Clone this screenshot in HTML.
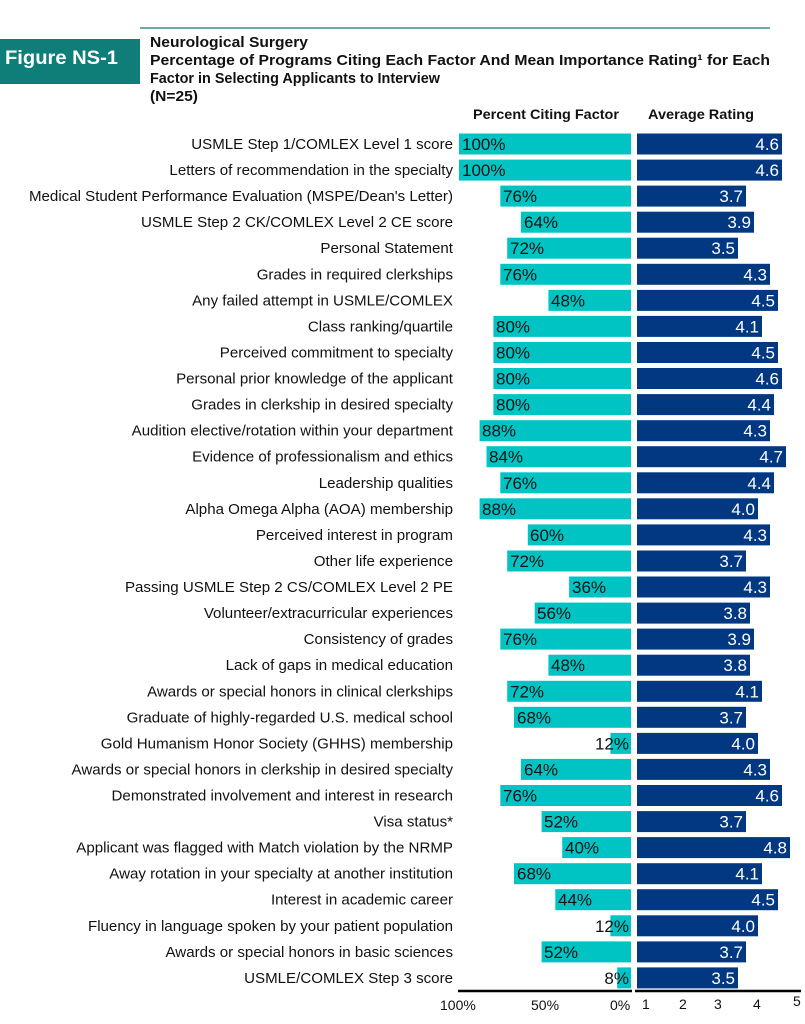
<!DOCTYPE html>
<html><head><meta charset="utf-8"><style>
html,body{margin:0;padding:0;background:#fff;}
svg{display:block;}
.l{font-size:15.1px;fill:#111;text-anchor:end}
.p{font-size:17px;fill:#111}
.pe{font-size:17px;fill:#111;text-anchor:end}
.r{font-size:17px;fill:#fff;text-anchor:end}
.c{fill:#00c4c4}
.b{fill:#023882}
</style></head><body>
<svg width="805" height="1024" xmlns="http://www.w3.org/2000/svg" font-family="Liberation Sans, Arial, sans-serif">
<rect x="0" y="39" width="140" height="45" fill="#0f7e79"/>
<line x1="140" y1="28" x2="770" y2="28" stroke="#3a918d" stroke-width="1.5"/>
<text x="5" y="64" font-size="19" font-weight="bold" fill="#fff" textLength="113" lengthAdjust="spacingAndGlyphs">Figure NS-1</text>
<g font-size="15" font-weight="bold" fill="#111">
<text x="150" y="47" textLength="158" lengthAdjust="spacingAndGlyphs">Neurological Surgery</text>
<text x="150" y="65" textLength="620" lengthAdjust="spacingAndGlyphs">Percentage of Programs Citing Each Factor And Mean Importance Rating¹ for Each</text>
<text x="150" y="83" textLength="290" lengthAdjust="spacingAndGlyphs">Factor in Selecting Applicants to Interview</text>
<text x="150" y="101" textLength="48" lengthAdjust="spacingAndGlyphs">(N=25)</text>
<text x="473" y="119" font-size="14" textLength="146" lengthAdjust="spacingAndGlyphs">Percent Citing Factor</text>
<text x="648" y="119" font-size="14" textLength="106" lengthAdjust="spacingAndGlyphs">Average Rating</text>
</g>

<g transform="translate(0,144)"><text class="l" x="453" y="5">USMLE Step 1/COMLEX Level 1 score</text><rect class="c" x="459" y="-10.5" width="172" height="21"/><text class="p" x="462" y="6">100%</text><rect class="b" x="637" y="-10.5" width="145" height="21"/><text class="r" x="779" y="6">4.6</text></g>
<g transform="translate(0,170.1)"><text class="l" x="453" y="5">Letters of recommendation in the specialty</text><rect class="c" x="459" y="-10.5" width="172" height="21"/><text class="p" x="462" y="6">100%</text><rect class="b" x="637" y="-10.5" width="145" height="21"/><text class="r" x="779" y="6">4.6</text></g>
<g transform="translate(0,196.1)"><text class="l" x="453" y="5">Medical Student Performance Evaluation (MSPE/Dean's Letter)</text><rect class="c" x="500.3" y="-10.5" width="130.7" height="21"/><text class="p" x="503" y="6">76%</text><rect class="b" x="637" y="-10.5" width="109" height="21"/><text class="r" x="743" y="6">3.7</text></g>
<g transform="translate(0,222.2)"><text class="l" x="453" y="5">USMLE Step 2 CK/COMLEX Level 2 CE score</text><rect class="c" x="520.9" y="-10.5" width="110.1" height="21"/><text class="p" x="524" y="6">64%</text><rect class="b" x="637" y="-10.5" width="117" height="21"/><text class="r" x="751" y="6">3.9</text></g>
<g transform="translate(0,248.2)"><text class="l" x="453" y="5">Personal Statement </text><rect class="c" x="507.2" y="-10.5" width="123.8" height="21"/><text class="p" x="510" y="6">72%</text><rect class="b" x="637" y="-10.5" width="101" height="21"/><text class="r" x="735" y="6">3.5</text></g>
<g transform="translate(0,274.3)"><text class="l" x="453" y="5">Grades in required clerkships </text><rect class="c" x="500.3" y="-10.5" width="130.7" height="21"/><text class="p" x="503" y="6">76%</text><rect class="b" x="637" y="-10.5" width="133" height="21"/><text class="r" x="767" y="6">4.3</text></g>
<g transform="translate(0,300.4)"><text class="l" x="453" y="5">Any failed attempt in USMLE/COMLEX</text><rect class="c" x="548.4" y="-10.5" width="82.6" height="21"/><text class="p" x="551" y="6">48%</text><rect class="b" x="637" y="-10.5" width="141" height="21"/><text class="r" x="775" y="6">4.5</text></g>
<g transform="translate(0,326.4)"><text class="l" x="453" y="5">Class ranking/quartile </text><rect class="c" x="493.4" y="-10.5" width="137.6" height="21"/><text class="p" x="496" y="6">80%</text><rect class="b" x="637" y="-10.5" width="125" height="21"/><text class="r" x="759" y="6">4.1</text></g>
<g transform="translate(0,352.5)"><text class="l" x="453" y="5">Perceived commitment to specialty </text><rect class="c" x="493.4" y="-10.5" width="137.6" height="21"/><text class="p" x="496" y="6">80%</text><rect class="b" x="637" y="-10.5" width="141" height="21"/><text class="r" x="775" y="6">4.5</text></g>
<g transform="translate(0,378.5)"><text class="l" x="453" y="5">Personal prior knowledge of the applicant</text><rect class="c" x="493.4" y="-10.5" width="137.6" height="21"/><text class="p" x="496" y="6">80%</text><rect class="b" x="637" y="-10.5" width="145" height="21"/><text class="r" x="779" y="6">4.6</text></g>
<g transform="translate(0,404.6)"><text class="l" x="453" y="5">Grades in clerkship in desired specialty </text><rect class="c" x="493.4" y="-10.5" width="137.6" height="21"/><text class="p" x="496" y="6">80%</text><rect class="b" x="637" y="-10.5" width="137" height="21"/><text class="r" x="771" y="6">4.4</text></g>
<g transform="translate(0,430.7)"><text class="l" x="453" y="5">Audition elective/rotation within your department</text><rect class="c" x="479.6" y="-10.5" width="151.4" height="21"/><text class="p" x="482" y="6">88%</text><rect class="b" x="637" y="-10.5" width="133" height="21"/><text class="r" x="767" y="6">4.3</text></g>
<g transform="translate(0,456.7)"><text class="l" x="453" y="5">Evidence of professionalism and ethics</text><rect class="c" x="486.5" y="-10.5" width="144.5" height="21"/><text class="p" x="489" y="6">84%</text><rect class="b" x="637" y="-10.5" width="149" height="21"/><text class="r" x="783" y="6">4.7</text></g>
<g transform="translate(0,482.8)"><text class="l" x="453" y="5">Leadership qualities</text><rect class="c" x="500.3" y="-10.5" width="130.7" height="21"/><text class="p" x="503" y="6">76%</text><rect class="b" x="637" y="-10.5" width="137" height="21"/><text class="r" x="771" y="6">4.4</text></g>
<g transform="translate(0,508.8)"><text class="l" x="453" y="5">Alpha Omega Alpha (AOA) membership</text><rect class="c" x="479.6" y="-10.5" width="151.4" height="21"/><text class="p" x="482" y="6">88%</text><rect class="b" x="637" y="-10.5" width="121" height="21"/><text class="r" x="755" y="6">4.0</text></g>
<g transform="translate(0,534.9)"><text class="l" x="453" y="5">Perceived interest in program </text><rect class="c" x="527.8" y="-10.5" width="103.2" height="21"/><text class="p" x="530" y="6">60%</text><rect class="b" x="637" y="-10.5" width="133" height="21"/><text class="r" x="767" y="6">4.3</text></g>
<g transform="translate(0,561)"><text class="l" x="453" y="5">Other life experience </text><rect class="c" x="507.2" y="-10.5" width="123.8" height="21"/><text class="p" x="510" y="6">72%</text><rect class="b" x="637" y="-10.5" width="109" height="21"/><text class="r" x="743" y="6">3.7</text></g>
<g transform="translate(0,587)"><text class="l" x="453" y="5">Passing USMLE Step 2 CS/COMLEX Level 2 PE</text><rect class="c" x="569.1" y="-10.5" width="61.9" height="21"/><text class="p" x="572" y="6">36%</text><rect class="b" x="637" y="-10.5" width="133" height="21"/><text class="r" x="767" y="6">4.3</text></g>
<g transform="translate(0,613.1)"><text class="l" x="453" y="5">Volunteer/extracurricular experiences</text><rect class="c" x="534.7" y="-10.5" width="96.3" height="21"/><text class="p" x="537" y="6">56%</text><rect class="b" x="637" y="-10.5" width="113" height="21"/><text class="r" x="747" y="6">3.8</text></g>
<g transform="translate(0,639.1)"><text class="l" x="453" y="5">Consistency of grades </text><rect class="c" x="500.3" y="-10.5" width="130.7" height="21"/><text class="p" x="503" y="6">76%</text><rect class="b" x="637" y="-10.5" width="117" height="21"/><text class="r" x="751" y="6">3.9</text></g>
<g transform="translate(0,665.2)"><text class="l" x="453" y="5">Lack of gaps in medical education</text><rect class="c" x="548.4" y="-10.5" width="82.6" height="21"/><text class="p" x="551" y="6">48%</text><rect class="b" x="637" y="-10.5" width="113" height="21"/><text class="r" x="747" y="6">3.8</text></g>
<g transform="translate(0,691.3)"><text class="l" x="453" y="5">Awards or special honors in clinical clerkships</text><rect class="c" x="507.2" y="-10.5" width="123.8" height="21"/><text class="p" x="510" y="6">72%</text><rect class="b" x="637" y="-10.5" width="125" height="21"/><text class="r" x="759" y="6">4.1</text></g>
<g transform="translate(0,717.3)"><text class="l" x="453" y="5">Graduate of highly-regarded U.S. medical school</text><rect class="c" x="514" y="-10.5" width="117" height="21"/><text class="p" x="517" y="6">68%</text><rect class="b" x="637" y="-10.5" width="109" height="21"/><text class="r" x="743" y="6">3.7</text></g>
<g transform="translate(0,743.4)"><text class="l" x="453" y="5">Gold Humanism Honor Society (GHHS) membership</text><rect class="c" x="610.4" y="-10.5" width="20.6" height="21"/><text class="pe" x="629" y="6">12%</text><rect class="b" x="637" y="-10.5" width="121" height="21"/><text class="r" x="755" y="6">4.0</text></g>
<g transform="translate(0,769.4)"><text class="l" x="453" y="5">Awards or special honors in clerkship in desired specialty</text><rect class="c" x="520.9" y="-10.5" width="110.1" height="21"/><text class="p" x="524" y="6">64%</text><rect class="b" x="637" y="-10.5" width="133" height="21"/><text class="r" x="767" y="6">4.3</text></g>
<g transform="translate(0,795.5)"><text class="l" x="453" y="5">Demonstrated involvement and interest in research</text><rect class="c" x="500.3" y="-10.5" width="130.7" height="21"/><text class="p" x="503" y="6">76%</text><rect class="b" x="637" y="-10.5" width="145" height="21"/><text class="r" x="779" y="6">4.6</text></g>
<g transform="translate(0,821.6)"><text class="l" x="453" y="5">Visa status*</text><rect class="c" x="541.6" y="-10.5" width="89.4" height="21"/><text class="p" x="544" y="6">52%</text><rect class="b" x="637" y="-10.5" width="109" height="21"/><text class="r" x="743" y="6">3.7</text></g>
<g transform="translate(0,847.6)"><text class="l" x="453" y="5">Applicant was flagged with Match violation by the NRMP</text><rect class="c" x="562.2" y="-10.5" width="68.8" height="21"/><text class="p" x="565" y="6">40%</text><rect class="b" x="637" y="-10.5" width="153" height="21"/><text class="r" x="787" y="6">4.8</text></g>
<g transform="translate(0,873.7)"><text class="l" x="453" y="5">Away rotation in your specialty at another institution</text><rect class="c" x="514" y="-10.5" width="117" height="21"/><text class="p" x="517" y="6">68%</text><rect class="b" x="637" y="-10.5" width="125" height="21"/><text class="r" x="759" y="6">4.1</text></g>
<g transform="translate(0,899.7)"><text class="l" x="453" y="5">Interest in academic career</text><rect class="c" x="555.3" y="-10.5" width="75.7" height="21"/><text class="p" x="558" y="6">44%</text><rect class="b" x="637" y="-10.5" width="141" height="21"/><text class="r" x="775" y="6">4.5</text></g>
<g transform="translate(0,925.8)"><text class="l" x="453" y="5">Fluency in language spoken by your patient population </text><rect class="c" x="610.4" y="-10.5" width="20.6" height="21"/><text class="pe" x="629" y="6">12%</text><rect class="b" x="637" y="-10.5" width="121" height="21"/><text class="r" x="755" y="6">4.0</text></g>
<g transform="translate(0,951.9)"><text class="l" x="453" y="5">Awards or special honors in basic sciences</text><rect class="c" x="541.6" y="-10.5" width="89.4" height="21"/><text class="p" x="544" y="6">52%</text><rect class="b" x="637" y="-10.5" width="109" height="21"/><text class="r" x="743" y="6">3.7</text></g>
<g transform="translate(0,977.9)"><text class="l" x="453" y="5">USMLE/COMLEX Step 3 score</text><rect class="c" x="617.2" y="-10.5" width="13.8" height="21"/><text class="pe" x="629" y="6">8%</text><rect class="b" x="637" y="-10.5" width="101" height="21"/><text class="r" x="735" y="6">3.5</text></g>

<line x1="458" y1="991" x2="632" y2="991" stroke="#000" stroke-width="2.5"/>
<line x1="635" y1="991" x2="801" y2="991" stroke="#000" stroke-width="2.5"/>
<g font-size="14" fill="#111">
<text x="440" y="1010">100%</text>
<text x="531" y="1010">50%</text>
<text x="610" y="1010">0%</text>
<text x="642" y="1009">1</text>
<text x="679" y="1009">2</text>
<text x="714" y="1009">3</text>
<text x="753" y="1009">4</text>
<text x="793" y="1006">5</text>
</g>
</svg>
</body></html>
